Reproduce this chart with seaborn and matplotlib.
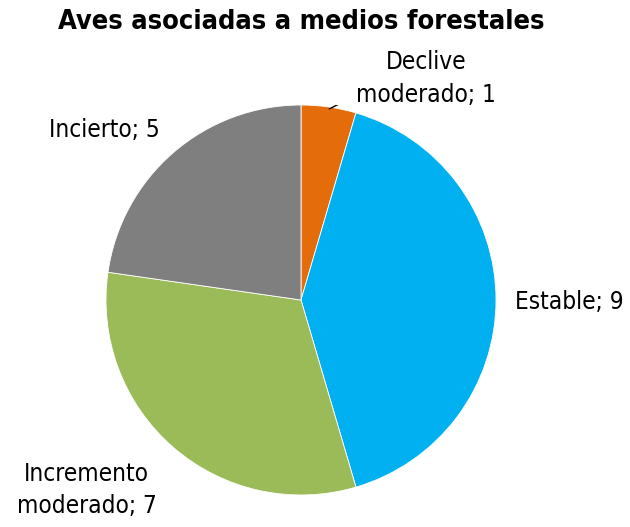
import matplotlib
matplotlib.use('Agg')
import matplotlib.pyplot as plt
import seaborn as sns

sns.set_theme(style='white')
plt.rcParams['font.family'] = ['DejaVu Sans']
plt.rcParams['font.stretch'] = 'condensed'
plt.rcParams['text.color'] = 'black'

categorias = ['Declive\nmoderado', 'Estable', 'Incremento\nmoderado', 'Incierto']
valores = [1, 9, 7, 5]
colores = ['#E46C0A', '#00B0F0', '#9BBB59', '#7F7F7F']

fig = plt.figure(figsize=(6.3, 5.27), dpi=100)
ax = fig.add_axes([106 / 630, 32 / 527, 390 / 630, 390 / 527])

wedges, _ = ax.pie(valores, colors=colores, startangle=90, counterclock=False,
                   radius=1, wedgeprops=dict(edgecolor='white', linewidth=0.6))
ax.set_xlim(-1, 1)
ax.set_ylim(-1, 1)
ax.set_aspect('equal')

etiquetas = [f'{c}; {v}' for c, v in zip(categorias, valores)]
pos = [(0.64, 1.135), (1.095, -0.01), (-1.10, -0.975), (-1.01, 0.87)]
ha = ['center', 'left', 'center', 'center']
for txt, (x, y), h in zip(etiquetas, pos, ha):
    ax.text(x, y, txt, ha=h, va='center', fontsize=17.5, linespacing=1.45,
            fontstretch='condensed')

# linea guia para el sector pequeño
ax.plot([0.26, 0.205, 0.145], [1.01, 1.01, 0.98], color='black', lw=1)

fig.suptitle('Aves asociadas a medios forestales', x=0.478, y=0.982,
             fontsize=19.5, fontweight='bold', va='top', fontstretch='condensed')

plt.savefig('out.png', dpi=100)
